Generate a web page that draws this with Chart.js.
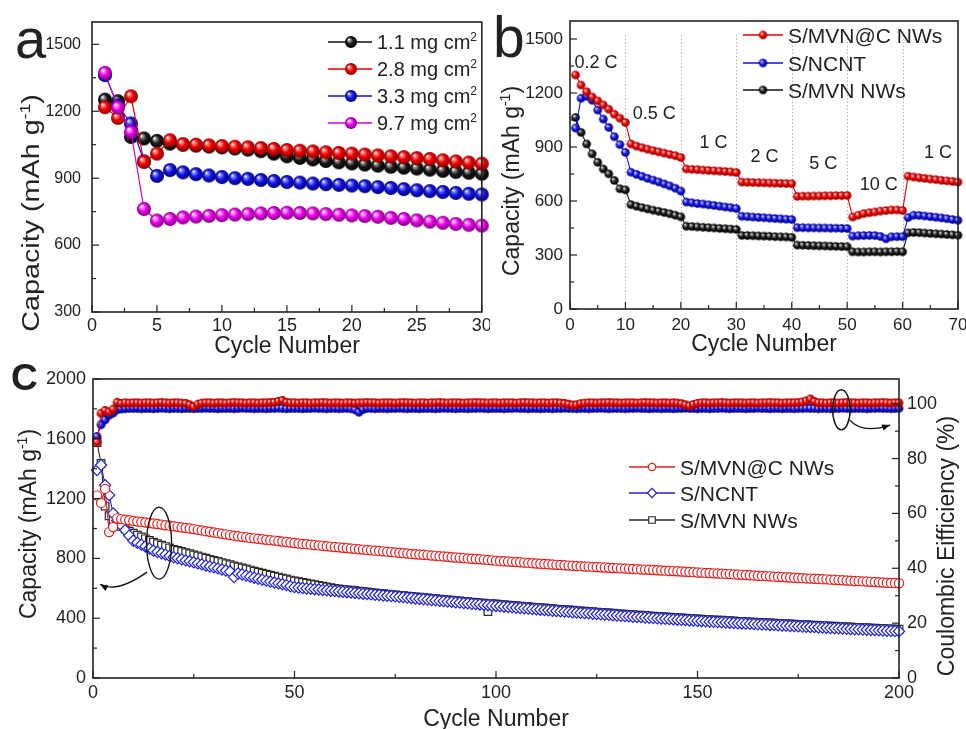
<!DOCTYPE html>
<html>
<head>
<meta charset="utf-8">
<script src="https://cdn.jsdelivr.net/npm/chart.js@4.4.1/dist/chart.umd.min.js"></script>
<style>
  html, body { margin: 0; padding: 0; background: #fff; }
  #wrap { position: relative; width: 966px; height: 729px; overflow: hidden; background: #fff; }
  #wrap canvas { position: absolute; }
</style>
</head>
<body>
<div id="wrap">
  <canvas id="chartA" width="490" height="370" style="left:0;top:0;width:490px;height:370px"></canvas>
  <canvas id="chartB" width="476" height="370" style="left:490px;top:0;width:476px;height:370px"></canvas>
  <canvas id="chartC" width="966" height="369" style="left:0;top:360px;width:966px;height:369px"></canvas>
</div>
<script>
// ================= data =================

// (a) cycling at different areal sulfur loadings
const cyclesA = [1,2,3,4,5,6,7,8,9,10,11,12,13,14,15,16,17,18,19,20,21,22,23,24,25,26,27,28,29,30];
const loadingLabels = ['1.1 mg cm', '2.8 mg cm', '3.3 mg cm', '9.7 mg cm'];
const capLoad11 = [1252,1245,1085,1078,1067,1055,1050,1046,1042,1038,1033,1028,1021,1010,998,991,984,977,971,966,961,956,951,947,943,938,933,928,924,920];
const capLoad28 = [1218,1170,1267,973,1010,1070,1052,1050,1047,1044,1041,1038,1035,1031,1026,1023,1020,1016,1013,1010,1006,1002,998,994,990,986,980,975,970,965];
const capLoad33 = [1362,1225,1145,975,910,936,926,918,912,905,900,897,892,887,883,880,876,873,870,867,864,860,856,851,846,842,838,834,830,827];
const capLoad97 = [1372,1217,1107,762,710,717,724,728,731,734,737,739,742,744,745,744,742,739,736,733,730,727,722,717,711,705,700,695,691,687];
const ticksA = { xStep: 5, yStep: 300 };

// (b) rate capability
const cyclesB = Array.from({ length: 70 }, (_, i) => i + 1);
const rateNames = ['0.2 C', '0.5 C', '1 C', '2 C', '5 C', '10 C', '1 C'];
const rateBounds = [10, 20, 30, 40, 50, 60];
const seriesNames = ['S/MVN@C NWs', 'S/NCNT', 'S/MVN NWs'];
const rateMvnC = [1300,1244,1207,1178,1156,1134,1110,1082,1060,1036,
  917,905,896,888,880,873,866,859,852,842,
  778,776,774,772,770,768,766,764,762,758,
  705,704,703,702,701,700,699,698,697,696,
  626,627,627,628,628,629,629,630,630,631,
  511,521,530,535,539,544,547,550,550,547,
  738,733,729,726,722,719,715,712,709,705];
const rateNcnt = [1005,1171,1182,1160,1105,1055,1009,957,913,870,
  760,748,737,726,716,706,695,684,671,655,
  594,590,586,583,579,575,571,567,563,558,
  515,513,511,509,507,505,503,501,499,497,
  452,452,451,451,450,450,449,449,448,447,
  405,407,408,409,408,403,390,401,402,402,
  508,521,520,517,513,510,506,502,497,493];
const rateMvn = [1064,981,917,862,815,778,751,714,668,662,
  580,571,563,556,549,543,536,529,521,512,
  460,458,456,454,452,450,448,446,444,442,
  409,408,407,406,405,404,402,401,400,398,
  355,354,353,352,351,350,349,348,347,346,
  318,317,317,318,318,317,318,318,319,318,
  423,425,424,422,420,418,416,414,412,410];
const ticksB = { xStep: 10, yStep: 300 };

// (c) long-term cycling: discharge capacity and coulombic efficiency
const cyclesC = Array.from({ length: 200 }, (_, i) => i + 1);
const capMvnC = [1220,1171,1265,976,1010,1068,1063,1059,1055,1051,
  1047,1044,1040,1037,1033,1030,1026,1022,1019,1015,
  1011,1007,1003,1000,996,991,987,982,978,973,
  969,965,961,956,952,948,944,941,937,934,
  931,928,925,922,919,916,913,910,906,903,
  900,897,895,892,889,887,884,881,879,876,
  874,871,869,866,864,861,859,857,854,852,
  850,847,845,842,840,838,835,833,830,828,
  826,824,822,819,817,815,813,811,808,806,
  804,802,800,798,796,794,792,790,787,785,
  783,781,779,777,776,774,772,770,768,766,
  764,763,761,759,757,756,754,752,751,749,
  748,746,745,743,742,740,739,737,736,735,
  733,732,730,729,728,726,725,724,722,721,
  719,718,716,715,714,712,711,709,708,706,
  705,703,702,700,699,698,696,695,693,692,
  690,689,687,686,684,683,681,680,678,677,
  675,674,672,671,669,668,666,665,664,663,
  661,660,658,657,655,654,652,651,649,648,
  646,645,643,642,640,639,637,636,635,634];
const capNcnt = [1391,1425,1290,1223,1100,1054,1021,988,952,918,
  905,892,880,866,852,843,834,825,816,808,
  801,794,787,781,774,767,760,753,746,740,
  733,726,719,712,675,699,692,685,678,671,
  664,657,651,645,639,633,627,621,614,608,
  605,602,599,597,594,592,589,587,584,582,
  579,577,574,572,569,567,564,562,560,557,
  555,552,550,548,546,543,541,538,535,532,
  529,527,524,521,519,516,514,511,509,506,
  504,501,499,496,494,492,489,487,484,482,
  480,477,475,473,470,468,466,464,461,459,
  457,455,453,450,448,446,444,442,440,438,
  436,434,432,430,428,426,424,422,420,418,
  416,414,412,410,408,407,405,403,401,399,
  397,396,394,392,390,389,387,385,384,382,
  380,379,377,376,374,373,371,370,368,366,
  365,364,362,361,359,358,357,355,354,352,
  351,350,348,347,345,344,343,341,340,338,
  337,336,334,333,332,330,329,328,326,325,
  324,323,321,320,319,318,316,315,314,313];
const capMvn = [1575,1435,1150,1085,1055,1035,1015,998,982,968,
  955,943,931,920,909,899,889,879,869,860,
  853,846,838,831,823,816,809,801,794,787,
  780,772,765,758,750,743,736,729,722,715,
  708,701,695,688,681,675,668,662,655,649,
  644,639,634,629,624,619,614,609,604,599,
  596,593,590,587,584,581,578,575,572,569,
  566,564,561,558,556,553,551,548,546,543,
  540,538,535,533,530,528,525,523,520,518,
  515,513,510,508,505,503,500,445,497,495,
  493,490,488,486,483,481,479,477,474,472,
  470,468,466,463,461,459,457,455,453,451,
  449,447,445,443,441,439,437,435,433,431,
  429,427,425,423,421,420,418,416,414,412,
  410,409,407,405,403,402,400,398,397,395,
  393,392,390,389,387,386,384,383,381,379,
  378,377,375,374,372,371,370,368,367,365,
  364,363,361,360,358,357,356,354,353,351,
  350,349,347,346,345,343,342,341,339,338,
  337,336,334,333,332,331,329,328,327,326];
const ceMvnC = [86.0,96.5,97.5,97.0,98.0,100.5,100.1,100.3,100.2,100.3,
  100.3,100.2,100.3,100.3,100.2,100.3,100.4,100.3,100.2,100.3,
  100.3,100.2,100.1,99.6,98.9,99.8,100.2,100.3,100.3,100.2,
  100.3,100.3,100.2,100.3,100.4,100.3,100.3,100.2,100.3,100.3,
  100.2,100.3,100.3,100.4,100.5,100.8,101.2,100.5,100.3,100.3,
  100.2,100.3,100.3,100.2,100.3,100.3,100.4,100.3,100.2,100.3,
  100.3,100.2,100.3,100.3,100.2,100.3,100.3,100.4,100.3,100.3,
  100.2,100.3,100.3,100.3,100.2,100.3,100.4,100.3,100.3,100.2,
  100.3,100.3,100.2,100.3,100.3,100.4,100.3,100.2,100.3,100.3,
  100.3,100.2,100.3,100.3,100.4,100.3,100.3,100.2,100.3,100.3,
  100.2,100.3,100.3,100.3,100.2,100.3,100.4,100.3,100.3,100.2,
  100.3,100.3,100.2,100.3,100.3,100.2,100.1,99.8,99.5,99.6,
  100.0,100.2,100.3,100.3,100.2,100.3,100.3,100.4,100.3,100.3,
  100.2,100.3,100.3,100.3,100.2,100.3,100.4,100.3,100.3,100.2,
  100.3,100.3,100.2,100.3,100.2,100.0,99.6,99.2,99.7,100.1,
  100.3,100.3,100.2,100.3,100.3,100.4,100.3,100.2,100.3,100.3,
  100.3,100.2,100.3,100.3,100.2,100.3,100.3,100.4,100.3,100.3,
  100.2,100.3,100.3,100.3,100.4,100.6,101.0,101.7,100.8,100.3,
  100.3,100.2,100.3,100.3,100.2,100.3,100.4,100.3,100.3,100.2,
  100.3,100.3,100.2,100.3,100.3,100.4,100.3,100.2,100.3,100.3];
const ceNcnt = [88.0,92.3,94.1,95.8,96.6,97.8,98.1,98.2,98.3,98.3,
  98.3,98.2,98.3,98.3,98.2,98.3,98.4,98.3,98.2,98.3,
  98.3,98.2,98.3,98.3,98.2,98.3,98.3,98.4,98.3,98.3,
  98.2,98.3,98.3,98.3,98.2,98.3,98.4,98.3,98.3,98.2,
  98.3,98.3,98.2,98.3,98.3,98.4,98.3,98.2,98.3,98.3,
  98.3,98.2,98.3,98.3,98.4,98.3,98.3,98.2,98.3,98.3,
  98.2,98.3,98.3,98.2,97.8,96.9,97.9,98.3,98.3,98.2,
  98.3,98.3,98.2,98.3,98.3,98.4,98.3,98.2,98.3,98.3,
  98.2,98.3,98.3,98.3,98.2,98.3,98.4,98.3,98.3,98.2,
  98.3,98.3,98.2,98.3,98.3,98.4,98.3,98.2,98.3,98.3,
  98.3,98.2,98.3,98.3,98.4,98.3,98.3,98.2,98.3,98.3,
  98.2,98.3,98.3,98.2,98.3,98.3,98.4,98.3,98.3,98.2,
  98.3,98.3,98.2,98.3,98.3,98.4,98.3,98.2,98.3,98.3,
  98.3,98.2,98.3,98.3,98.4,98.3,98.3,98.2,98.3,98.3,
  98.2,98.3,98.3,98.2,98.3,98.3,98.4,98.3,98.3,98.2,
  98.3,98.3,98.2,98.3,98.3,98.4,98.3,98.2,98.3,98.3,
  98.3,98.2,98.3,98.3,98.4,98.3,98.3,98.2,98.3,98.3,
  98.2,98.3,98.3,98.2,98.3,98.3,98.4,98.3,98.3,98.2,
  98.3,98.3,98.2,98.3,98.3,98.4,98.3,98.2,98.3,98.3,
  98.3,98.2,98.3,98.3,98.4,98.3,98.3,98.2,98.3,98.3];
const ticksC = { xStep: 50, yStep: 400, y2Step: 20 };

// ================= look & layout =================
const INK = '#222';
const FONT = "'Liberation Sans', Arial, Helvetica, sans-serif";
Chart.defaults.font.family = FONT;
Chart.defaults.color = INK;

const COLORS = {
  black:   { base: '#1c1c1c', light: '#9c9c9c', dark: '#000000', line: '#111111' },
  red:     { base: '#f00000', light: '#ff9090', dark: '#8c0000', line: '#e00000' },
  blue:    { base: '#1414ee', light: '#9090ff', dark: '#00006c', line: '#1010e0' },
  magenta: { base: '#f000f0', light: '#ffa0ff', dark: '#7c007c', line: '#d000d0' }
};

// shaded sphere used as a point marker
function ball(c, r) {
  const cv = document.createElement('canvas');
  const s = Math.ceil(2 * r + 2);
  cv.width = s; cv.height = s;
  const g = cv.getContext('2d');
  const m = s / 2;
  const grd = g.createRadialGradient(m - r * 0.38, m - r * 0.4, r * 0.05, m, m, r);
  grd.addColorStop(0, '#ffffff');
  grd.addColorStop(0.16, c.light);
  grd.addColorStop(0.52, c.base);
  grd.addColorStop(1, c.dark);
  g.fillStyle = grd;
  g.beginPath(); g.arc(m, m, r, 0, Math.PI * 2); g.fill();
  return cv;
}

const pts = (xs, ys) => xs.map((x, i) => ({ x, y: ys[i] }));

function richWidth(ctx, parts, size) {
  let w = 0;
  for (const [t, sup] of parts) {
    ctx.font = `${sup ? Math.round(size * 0.62) : size}px ${FONT}`;
    w += ctx.measureText(t).width;
  }
  return w;
}
function drawRich(ctx, parts, x, baseY, size, align) {
  const w = richWidth(ctx, parts, size);
  let cx = align === 'center' ? x - w / 2 : x;
  ctx.textAlign = 'left';
  ctx.textBaseline = 'alphabetic';
  for (const [t, sup] of parts) {
    const fs = sup ? Math.round(size * 0.62) : size;
    ctx.font = `${fs}px ${FONT}`;
    ctx.fillText(t, cx, sup ? baseY - size * 0.42 : baseY);
    cx += ctx.measureText(t).width;
  }
}
function drawTitle(ctx, t) {
  ctx.save();
  ctx.translate(t.x, t.y);
  if (t.rotate) ctx.rotate(-Math.PI / 2);
  if (t.stretch) ctx.scale(t.stretch, 1);
  ctx.fillStyle = INK;
  drawRich(ctx, t.parts, 0, t.size * 0.358, t.size, 'center');
  ctx.restore();
}

function drawTicks(ctx, chart, id, side) {
  const s = chart.scales[id], a = chart.chartArea;
  const vals = s.ticks.map(t => t.value);
  const minors = [];
  for (let i = 0; i < vals.length; i++) {
    const step = i < vals.length - 1 ? vals[i + 1] - vals[i] : vals[i] - vals[i - 1];
    const m = vals[i] + step / 2;
    if (m < s.max) minors.push(m);
  }
  const seg = (v, len) => {
    const p = s.getPixelForValue(v);
    ctx.beginPath();
    if (side === 'bottom') { ctx.moveTo(p, a.bottom); ctx.lineTo(p, a.bottom - len); }
    if (side === 'left')   { ctx.moveTo(a.left, p); ctx.lineTo(a.left + len, p); }
    if (side === 'right')  { ctx.moveTo(a.right, p); ctx.lineTo(a.right - len, p); }
    ctx.stroke();
  };
  ctx.strokeStyle = INK; ctx.lineWidth = 1.2;
  vals.forEach(v => seg(v, 7));
  minors.forEach(v => seg(v, 4));
}

function quadArrow(ctx, p0, p1, p2) {
  ctx.beginPath();
  ctx.moveTo(p0[0], p0[1]);
  ctx.quadraticCurveTo(p1[0], p1[1], p2[0], p2[1]);
  ctx.stroke();
  const ang = Math.atan2(p2[1] - p1[1], p2[0] - p1[0]);
  const L = 8, W = 3.2;
  ctx.beginPath();
  ctx.moveTo(p2[0], p2[1]);
  ctx.lineTo(p2[0] - L * Math.cos(ang) + W * Math.sin(ang), p2[1] - L * Math.sin(ang) - W * Math.cos(ang));
  ctx.lineTo(p2[0] - L * Math.cos(ang) - W * Math.sin(ang), p2[1] - L * Math.sin(ang) + W * Math.cos(ang));
  ctx.closePath();
  ctx.fill();
}

// frame, inward ticks, titles, legend and notes
const decor = {
  id: 'decor',
  beforeDatasetsDraw(chart, args, o) {
    const ctx = chart.ctx, a = chart.chartArea;
    if (o.vlines) {
      ctx.save();
      ctx.strokeStyle = '#b4b4b4'; ctx.lineWidth = 1; ctx.setLineDash([1.5, 2]);
      o.vlines.forEach(v => {
        const x = Math.round(chart.scales.x.getPixelForValue(v)) + 0.5;
        ctx.beginPath(); ctx.moveTo(x, a.top + 14); ctx.lineTo(x, a.bottom); ctx.stroke();
      });
      ctx.restore();
    }
  },
  afterDatasetsDraw(chart, args, o) {
    const ctx = chart.ctx, a = chart.chartArea;
    ctx.save();
    ctx.strokeStyle = INK; ctx.lineWidth = 1.6;
    ctx.strokeRect(a.left, a.top, a.right - a.left, a.bottom - a.top);
    (o.ticks || []).forEach(([id, side]) => drawTicks(ctx, chart, id, side));

    ctx.fillStyle = INK;
    (o.titles || []).forEach(t => drawTitle(ctx, t));

    if (o.letter) {
      ctx.font = o.letter.font;
      ctx.textAlign = 'left'; ctx.textBaseline = 'alphabetic';
      ctx.fillText(o.letter.text, o.letter.x, o.letter.y);
    }

    (o.notes || []).forEach(n => {
      ctx.font = `${n.size}px ${FONT}`;
      ctx.textAlign = 'center'; ctx.textBaseline = 'middle';
      ctx.fillStyle = INK;
      ctx.fillText(n.text, chart.scales.x.getPixelForValue(n.x), chart.scales.y.getPixelForValue(n.y));
    });

    (o.shapes || []).forEach(sh => {
      const ys = chart.scales[sh.axis], xs = chart.scales.x;
      ctx.strokeStyle = '#111'; ctx.fillStyle = '#111'; ctx.lineWidth = 1.4;
      if (sh.type === 'ellipse') {
        ctx.beginPath();
        ctx.ellipse(xs.getPixelForValue(sh.x), ys.getPixelForValue(sh.y), sh.rx, sh.ry, 0, 0, Math.PI * 2);
        ctx.stroke();
      } else {
        const p = sh.pts.map(([x, y]) => [xs.getPixelForValue(x), ys.getPixelForValue(y)]);
        quadArrow(ctx, p[0], p[1], p[2]);
      }
    });

    if (o.legend) {
      const L = o.legend;
      L.items.forEach((it, i) => {
        const ds = chart.data.datasets[it.ds];
        const y = L.rows[i];
        ctx.strokeStyle = ds.borderColor; ctx.lineWidth = 1.3;
        ctx.beginPath(); ctx.moveTo(L.x0, y); ctx.lineTo(L.x1, y); ctx.stroke();
        if (it.img) {
          ctx.drawImage(it.img, L.mx - it.img.width / 2, y - it.img.height / 2);
        } else {
          ctx.fillStyle = '#fff';
          ctx.strokeStyle = ds.pointBorderColor;
          ctx.lineWidth = 1.2;
          Chart.helpers.drawPoint(ctx, { pointStyle: ds.pointStyle, radius: it.r, rotation: 0, borderWidth: 1.2 }, L.mx, y);
        }
        ctx.fillStyle = INK;
        drawRich(ctx, it.parts, L.tx, y + L.size * 0.358, L.size, 'left');
      });
    }
    ctx.restore();
  }
};

function axis(min, max, step, pad, size, fit, extra) {
  return Object.assign({
    type: 'linear', min, max,
    grid: { display: false, drawTicks: false },
    border: { display: false },
    ticks: {
      stepSize: step, includeBounds: false, padding: pad, autoSkip: false, maxRotation: 0,
      color: INK, font: { size, family: FONT }, callback: v => String(v)
    },
    afterFit: s => {
      if (fit.w !== undefined) s.width = fit.w;
      if (fit.h !== undefined) s.height = fit.h;
      s.paddingLeft = 0; s.paddingRight = 0; s.paddingTop = 0; s.paddingBottom = 0;
    }
  }, extra || {});
}

const base = {
  responsive: false, animation: false, devicePixelRatio: 1, events: [],
  plugins: { legend: { display: false }, tooltip: { enabled: false } }
};

// ================= (a) =================
const seriesA = [
  { v: capLoad11, c: COLORS.black, order: 4 },
  { v: capLoad28, c: COLORS.red, order: 2 },
  { v: capLoad33, c: COLORS.blue, order: 3 },
  { v: capLoad97, c: COLORS.magenta, order: 1 }
];
new Chart(document.getElementById('chartA'), {
  type: 'line',
  data: {
    datasets: seriesA.map((s, i) => ({
      label: loadingLabels[i], data: pts(cyclesA, s.v), order: s.order,
      borderColor: s.c.line, borderWidth: 1.2, tension: 0, clip: false,
      pointStyle: ball(s.c, 7), pointRadius: 7
    }))
  },
  options: Object.assign({}, base, {
    layout: { padding: { left: 0, top: 22, right: 8, bottom: 0 } },
    scales: {
      x: axis(0, 30, ticksA.xStep, 3, 18, { h: 58 }),
      y: axis(300, 1600, ticksA.yStep, 11, 16, { w: 92 })
    },
    plugins: Object.assign({}, base.plugins, {
      decor: {
        ticks: [['x', 'bottom'], ['y', 'left']],
        titles: [
          { parts: [['Capacity (mAh g', false], ['-1', true], [')', false]], x: 31, y: 213, size: 23, rotate: true, stretch: 1.25 },
          { parts: [['Cycle Number', false]], x: 287, y: 345, size: 23 }
        ],
        letter: { text: 'a', x: 15, y: 58, font: `56px ${FONT}` },
        legend: {
          x0: 328, x1: 372, mx: 351, tx: 377, rows: [42, 69, 96, 123], size: 20,
          items: seriesA.map((s, i) => ({ ds: i, img: ball(s.c, 6), parts: [[loadingLabels[i], false], ['2', true]] }))
        }
      }
    })
  }),
  plugins: [decor]
});

// ================= (b) =================
const seriesB = [
  { v: rateMvnC, c: COLORS.red, order: 1 },
  { v: rateNcnt, c: COLORS.blue, order: 2 },
  { v: rateMvn, c: COLORS.black, order: 3 }
];
const ratePos = [[4.7, 1366], [15.2, 1084], [25.9, 924], [35.1, 847], [45.7, 807], [55.7, 686], [66.4, 864]];
new Chart(document.getElementById('chartB'), {
  type: 'line',
  data: {
    datasets: seriesB.map((s, i) => ({
      label: seriesNames[i], data: pts(cyclesB, s.v), order: s.order,
      borderColor: s.c.line, borderWidth: 1.1, tension: 0, clip: false,
      pointStyle: ball(s.c, 4.3), pointRadius: 4.3
    }))
  },
  options: Object.assign({}, base, {
    layout: { padding: { left: 0, top: 21, right: 8, bottom: 0 } },
    scales: {
      x: axis(0, 70, ticksB.xStep, 6, 17, { h: 61 }),
      y: axis(0, 1600, ticksB.yStep, 7, 17, { w: 80 })
    },
    plugins: Object.assign({}, base.plugins, {
      decor: {
        vlines: rateBounds,
        ticks: [['x', 'bottom'], ['y', 'left']],
        titles: [
          { parts: [['Capacity (mAh g', false], ['-1', true], [')', false]], x: 21, y: 181, size: 23, rotate: true },
          { parts: [['Cycle Number', false]], x: 274, y: 343, size: 23 }
        ],
        letter: { text: 'b', x: 3, y: 57, font: `57px ${FONT}` },
        notes: rateNames.map((t, i) => ({ text: t, x: ratePos[i][0], y: ratePos[i][1], size: 18 })),
        legend: {
          x0: 253, x1: 293, mx: 273, tx: 298, rows: [35, 63, 90], size: 21,
          items: seriesB.map((s, i) => ({ ds: i, img: ball(s.c, 4.2), parts: [[seriesNames[i], false]] }))
        }
      }
    })
  }),
  plugins: [decor]
});

// ================= (c) =================
const hollow = (label, v, col, style, r, order) => ({
  label, data: pts(cyclesC, v), yAxisID: 'y', order,
  borderColor: col, borderWidth: 1.1, tension: 0, clip: false,
  pointStyle: style, pointRadius: r, pointBorderWidth: 1.2,
  pointBorderColor: col, pointBackgroundColor: '#ffffff'
});
new Chart(document.getElementById('chartC'), {
  type: 'line',
  data: {
    datasets: [
      hollow(seriesNames[0], capMvnC, '#e41e1e', 'circle', 4.6, 3),
      hollow(seriesNames[1], capNcnt, '#2020dc', 'rectRot', 5.6, 4),
      hollow(seriesNames[2], capMvn, '#2a2a2a', 'rect', 5.4, 5),
      { label: seriesNames[0], data: pts(cyclesC, ceMvnC), yAxisID: 'y2', order: 1,
        borderColor: COLORS.red.line, borderWidth: 1, tension: 0, clip: false,
        pointStyle: ball(COLORS.red, 4.4), pointRadius: 4.4 },
      { label: seriesNames[1], data: pts(cyclesC, ceNcnt), yAxisID: 'y2', order: 2,
        borderColor: COLORS.blue.line, borderWidth: 1, tension: 0, clip: false,
        pointStyle: ball(COLORS.blue, 4.4), pointRadius: 4.4 }
    ]
  },
  options: Object.assign({}, base, {
    layout: { padding: { left: 0, top: 19, right: 0, bottom: 0 } },
    scales: {
      x: axis(0, 200, ticksC.xStep, 4, 18, { h: 51 }),
      y: axis(0, 2000, ticksC.yStep, 7, 18, { w: 93 }, { position: 'left' }),
      y2: axis(0, 109, ticksC.y2Step, 8, 18, { w: 67 }, { position: 'right' })
    },
    plugins: Object.assign({}, base.plugins, {
      decor: {
        ticks: [['x', 'bottom'], ['y', 'left'], ['y2', 'right']],
        titles: [
          { parts: [['Capacity (mAh g', false], ['-1', true], [')', false]], x: 28, y: 164, size: 23, rotate: true },
          { parts: [['Coulombic Eifficiency (%)', false]], x: 946, y: 186, size: 23, rotate: true },
          { parts: [['Cycle Number', false]], x: 496, y: 358, size: 23 }
        ],
        letter: { text: 'C', x: 11, y: 30, font: `bold 37px ${FONT}` },
        shapes: [
          { type: 'ellipse', axis: 'y', x: 16.4, y: 902, rx: 12.5, ry: 36 },
          { type: 'arrow', axis: 'y', pts: [[13.4, 708], [5.8, 564], [1.74, 627]] },
          { type: 'ellipse', axis: 'y2', x: 185.7, y: 97.8, rx: 8.7, ry: 20 },
          { type: 'arrow', axis: 'y2', pts: [[187.8, 94.0], [190.8, 88.9], [197.8, 92.2]] }
        ],
        legend: {
          x0: 629, x1: 675, mx: 652, tx: 680, rows: [107, 133, 160], size: 21,
          items: [
            { ds: 0, r: 3.6, parts: [[seriesNames[0], false]] },
            { ds: 1, r: 4.6, parts: [[seriesNames[1], false]] },
            { ds: 2, r: 4.6, parts: [[seriesNames[2], false]] }
          ]
        }
      }
    })
  }),
  plugins: [decor]
});
</script>
</body>
</html>
